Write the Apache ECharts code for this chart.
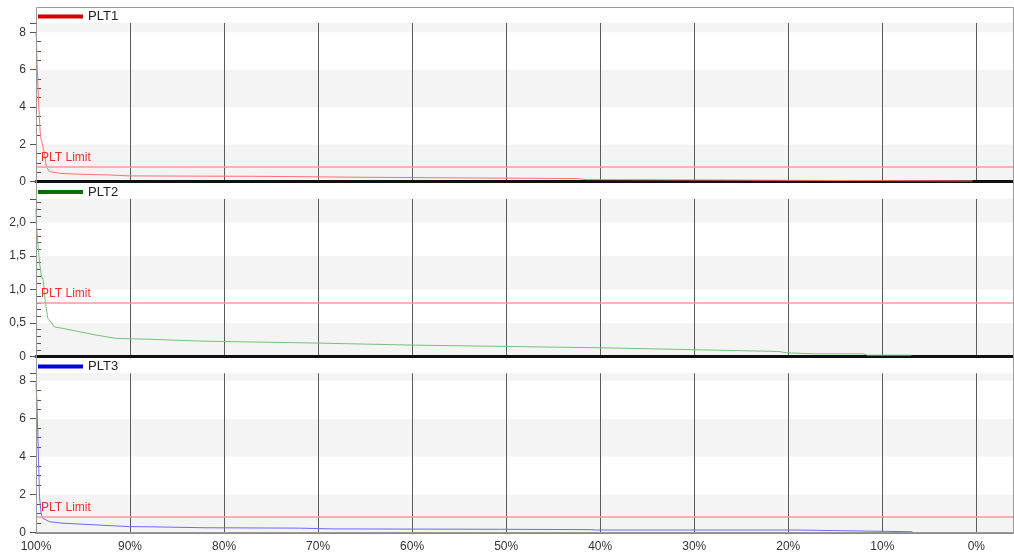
<!DOCTYPE html>
<html>
<head>
<meta charset="utf-8">
<title>PLT</title>
<script src="https://cdn.jsdelivr.net/npm/echarts@6/dist/echarts.min.js"></script>
<style>
  html, body { margin: 0; padding: 0; background: #ffffff; }
  #chart { width: 1014px; height: 555px; }
</style>
</head>
<body>
<div id="chart"></div>
<script>
// Duration curves: percentage of time (100% .. 0%) vs. PLT value
const pct1 = [100, 99.95, 99.9, 99.8, 99.7, 99.55, 99.45, 99.34, 99.1, 98.9, 98.56, 97.5, 95.4, 92.2, 90, 85, 77.1, 76.9, 64.5, 64.3, 53.7, 53.5, 42.5, 42.3, 41.4, 41.2, 28.0, 27.8, 18.2, 18.0, 0.4];
const plt1 = [7.95, 7.6, 6.5, 5.2, 4.0, 2.6, 2.25, 2.05, 1.5, 0.79, 0.53, 0.44, 0.39, 0.35, 0.3, 0.29, 0.28, 0.225, 0.225, 0.19, 0.19, 0.16, 0.16, 0.1, 0.1, 0.08, 0.08, 0.06, 0.06, 0.03, 0.03];

const pct2 = [100, 99.98, 99.81, 99.63, 99.45, 99.2, 99.1, 98.91, 98.74, 98.03, 97.15, 95.4, 93.6, 91.5, 87.9, 82.6, 70, 60, 50, 40, 29.4, 21, 20.2, 17.3, 12, 11.6, 6.9];
const plt2 = [2.21, 2.01, 1.71, 1.41, 1.22, 1.12, 0.92, 0.72, 0.57, 0.44, 0.42, 0.37, 0.32, 0.27, 0.257, 0.23, 0.2, 0.17, 0.15, 0.13, 0.1, 0.075, 0.055, 0.04, 0.04, 0.02, 0.02];

const pct3 = [100, 99.9, 99.8, 99.7, 99.63, 99.45, 99.28, 98.56, 97.15, 93.6, 90.05, 87.9, 82, 72, 68.5, 50.7, 41, 40.5, 19.1, 18.9, 12.4, 12.2, 6.8];
const plt3 = [7.87, 6.81, 5.05, 3.29, 1.88, 1.0, 0.74, 0.56, 0.48, 0.39, 0.3, 0.29, 0.24, 0.22, 0.18, 0.16, 0.14, 0.12, 0.12, 0.07, 0.07, 0.03, 0.03];

const seriesNames = ['PLT1', 'PLT2', 'PLT3'];
const pltLimit = 0.8;
const limitLabel = 'PLT Limit';

// Axis ticks and labels
const xTickPct = [100, 90, 80, 70, 60, 50, 40, 30, 20, 10, 0];
const yTicks1 = [0, 2, 4, 6, 8];
const yMinor1 = [0.5, 1, 1.5, 2.5, 3, 3.5, 4.5, 5, 5.5, 6.5, 7, 7.5];
const yTicks2 = [0, 0.5, 1, 1.5, 2];
const yMinor2 = [0.1, 0.2, 0.3, 0.4, 0.6, 0.7, 0.8, 0.9, 1.1, 1.2, 1.3, 1.4, 1.6, 1.7, 1.8, 1.9, 2.1, 2.2, 2.3];
const yTicks3 = [0, 2, 4, 6, 8];
const yMinor3 = [0.5, 1, 1.5, 2.5, 3, 3.5, 4.5, 5, 5.5, 6.5, 7, 7.5];

const FONT = '"Liberation Sans", Arial, sans-serif';
const lineColors = ['#ff7070', '#7abf7a', '#6a6aff'];
const legendColors = ['#d40000', '#007000', '#0000e0'];

// x is plotted as "100 - percent" so the axis can run left-to-right from 0
const toXY = (pcts, vals) => pcts.map((p, i) => [100 - p, vals[i]]);

const panels = [
  { top: 23,    height: 158.5, max: 8.5,  interval: 2,   ticks: yTicks1, minor: yMinor1, pcts: pct1, vals: plt1, legendTop: 10,  bottomLine: { color: '#111', width: 3 } },
  { top: 199,   height: 157.5, max: 2.35, interval: 0.5, ticks: yTicks2, minor: yMinor2, pcts: pct2, vals: plt2, legendTop: 185.5, bottomLine: { color: '#111', width: 3 } },
  { top: 373.3, height: 159,   max: 8.4,  interval: 2,   ticks: yTicks3, minor: yMinor3, pcts: pct3, vals: plt3, legendTop: 360, bottomLine: { color: '#8a8a8a', width: 2 } }
];

const fmtY = (i) => (v) => {
  if (i === 1) return v === 0 ? '0' : v.toFixed(1).replace('.', ',');
  return String(v);
};

const option = {
  animation: false,
  backgroundColor: '#ffffff',
  textStyle: { fontFamily: FONT },
  grid: panels.map(p => ({ left: 36, right: 1, top: p.top, height: p.height, containLabel: false, outerBoundsMode: 'none' })),
  legend: panels.map((p, i) => ({
    left: 38,
    top: p.legendTop,
    padding: 0,
    icon: 'rect',
    itemWidth: 45,
    itemHeight: 4,
    selectedMode: false,
    textStyle: { fontSize: 13, color: '#222', fontFamily: FONT },
    data: [{ name: seriesNames[i], itemStyle: { color: legendColors[i] } }]
  })),
  xAxis: panels.map((p, i) => ({
    type: 'value',
    gridIndex: i,
    min: 0,
    max: 103.9,
    interval: 10,
    axisLine: { show: true, onZero: false, lineStyle: p.bottomLine },
    axisTick: { show: false },
    splitLine: { show: true, lineStyle: { color: '#5a5a5a', width: 1 } },
    axisLabel: {
      show: i === 2,
      fontSize: 12,
      color: '#333',
      margin: 8,
      fontFamily: FONT,
      formatter: (v) => {
        const pct = Math.round(100 - v);
        return xTickPct.includes(pct) && Math.abs(100 - v - pct) < 1e-6 ? pct + '%' : '';
      }
    }
  })),
  yAxis: panels.map((p, i) => ({
    type: 'value',
    gridIndex: i,
    min: 0,
    max: p.max,
    interval: p.interval,
    axisLine: { show: true, lineStyle: { color: '#888', width: 1 } },
    axisTick: { show: true, length: 6, lineStyle: { color: '#555' } },
    axisLabel: {
      fontSize: 12, color: '#333', margin: 10, fontFamily: FONT,
      customValues: p.ticks,
      formatter: fmtY(i)
    },
    splitLine: { show: false },
    splitArea: { show: true, areaStyle: { color: ['#f4f4f4', '#ffffff'] } }
  })).concat(panels.map((p, i) => ({
    // inner minor ticks
    type: 'value',
    gridIndex: i,
    position: 'left',
    offset: 0,
    min: 0,
    max: p.max,
    interval: p.interval,
    axisLine: { show: false },
    axisTick: { show: true, inside: true, length: 5, customValues: p.minor, lineStyle: { color: '#555' } },
    axisLabel: { show: false },
    splitLine: { show: false },
    splitArea: { show: false }
  }))),
  series: panels.map((p, i) => ({
    name: seriesNames[i],
    type: 'line',
    xAxisIndex: i,
    yAxisIndex: i,
    data: toXY(p.pcts, p.vals),
    symbol: 'none',
    smooth: false,
    itemStyle: { color: legendColors[i] },
    lineStyle: { color: lineColors[i], width: 1 },
    emphasis: { disabled: true },
    z: 3,
    markLine: {
      silent: true,
      symbol: 'none',
      animation: false,
      lineStyle: { color: '#ff9a9a', width: 1.5, type: 'solid' },
      label: {
        show: true,
        position: 'insideStartTop',
        formatter: limitLabel,
        color: '#ff2a2a',
        fontSize: 12,
        fontFamily: FONT,
        distance: [5, 3]
      },
      data: [{ yAxis: pltLimit }]
    }
  })),
  graphic: [{
    type: 'rect',
    silent: true,
    z: 100,
    shape: { x: 36.5, y: 7.5, width: 977, height: 525 },
    style: { fill: 'none', stroke: '#999', lineWidth: 1 }
  }]
};

const chart = echarts.init(document.getElementById('chart'), null, { renderer: 'canvas' });
chart.setOption(option);
</script>
</body>
</html>
